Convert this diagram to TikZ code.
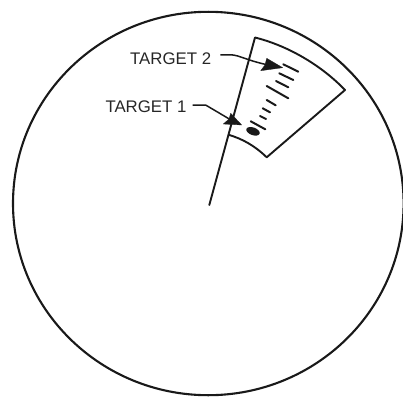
\documentclass[tikz,border=0pt]{standalone}
\usepackage{fontspec}
\setmainfont{Liberation Sans}
\tikzset{
  every picture/.style={x=1pt,y=-1pt},
  lbl/.style={font=\fontsize{16.8}{18}\selectfont,text=black!85,inner sep=0pt,anchor=west},
  ink/.style={draw=black!90,line width=1.9pt,line cap=round,line join=round},
  rim/.style={draw=black!90,line width=2.1pt},
  blip/.style={draw=black!90,line width=2pt,line cap=round},
  leader/.style={draw=black!90,line width=1.5pt},
  head/.style={fill=black!90,draw=black!90,line width=.3pt,line join=round}
}
\begin{document}
\begin{tikzpicture}
\useasboundingbox (0,0) rectangle (403,396);
\draw[rim] (208.3,203.5) ellipse[x radius=195.3,y radius=191.7];
\coordinate (origin) at (209.3,205);
\coordinate (corner) at (255,37.5);
\coordinate (right) at (345,90);
\coordinate (bottom) at (266.7,157.3);
\coordinate (left) at (229.5,135);
\draw[ink] (origin) -- (corner) .. controls (289,46) and (322,66) .. (right)
  -- (bottom) .. controls (254,145) and (242,139) .. (left);
\node[lbl] (t2) at (130,58.3) {TARGET 2};
\node[lbl] (t1) at (105.3,107) {TARGET 1};
\coordinate (a2) at (266,64.5);
\coordinate (a1) at (231,120);
\draw[leader] (t2.east) ++(9,-3.5) -- ++(11,0) .. controls (240,55.5) and (246,60) .. (a2);
\draw[leader] (t1.east) ++(6,-2) -- ++(13,0) -- (a1);
\path[head] (266.7,58.3) -- (282.7,67.7) -- (260.7,70.7) -- (265,65) -- cycle;
\path[head] (230.7,113.3) -- (241.7,125) -- (223.3,124) -- (229,119) -- cycle;
\foreach \a/\b/\c/\d in {283.3/64.3/298.3/71.7, 279.3/73.3/293.3/80, 276/81/288.3/87.3, 266.7/86/288.3/98.3, 266.7/100/275.7/105.3, 262.7/108.3/270/112.3, 260/116/266/119, 250.7/121.3/265.3/129.3}{
  \draw[blip] (\a,\b) -- (\c,\d);
}
\fill[black!90,rotate around={-20:(253,131.3)}] (253,131.3) ellipse[x radius=7,y radius=3.8];
\end{tikzpicture}
\end{document}
